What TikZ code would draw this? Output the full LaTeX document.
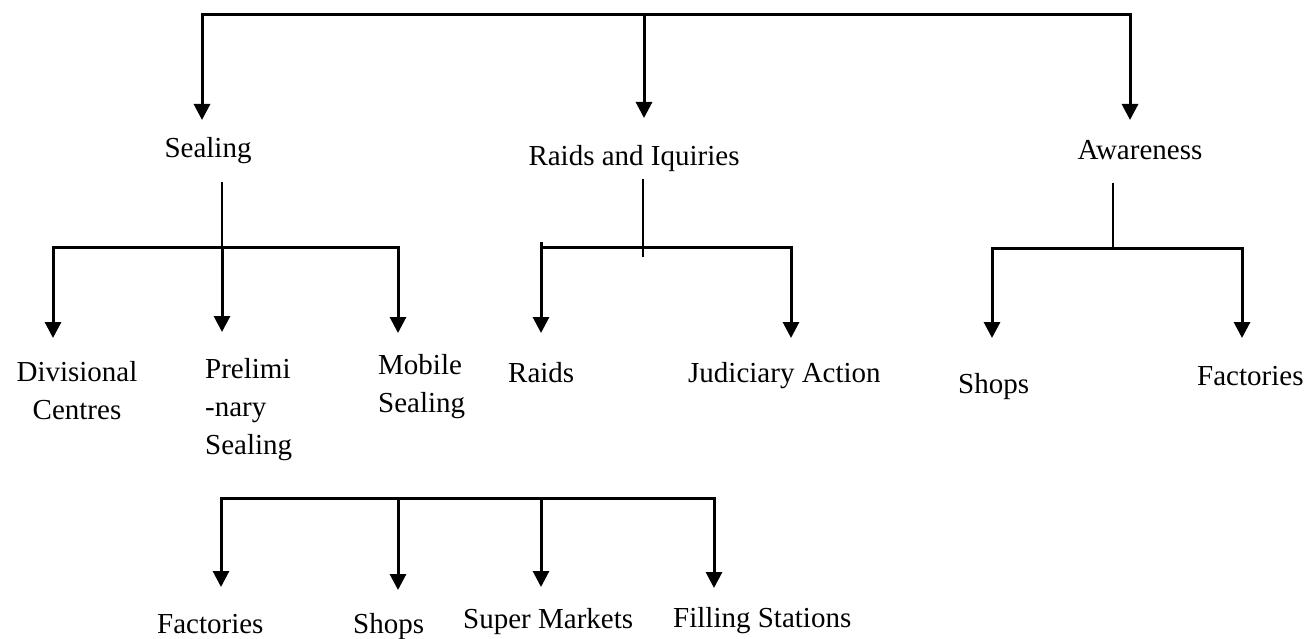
\documentclass[tikz,border=0pt]{standalone}
\usepackage{fontspec}
\setmainfont{Liberation Serif}
\usetikzlibrary{arrows.meta}
\tikzset{
  txt/.style={font=\fontsize{29}{38}\selectfont, inner sep=0pt},
  bar/.style={line width=3pt, line join=miter},
  stem/.style={line width=2pt},
  arrowed/.style={-{Triangle[width=16pt,length=16pt]}},
  twin/.style={{Triangle[width=16pt,length=16pt]}-{Triangle[width=16pt,length=16pt]}}
}
\begin{document}
\begin{tikzpicture}[x=1pt, y=-1pt]
\useasboundingbox (0,0) rectangle (1308,639);
\node[txt, anchor=base] (S) at (208,158) {Sealing};
\node[txt, anchor=base] (R) at (634,166) {Raids and Iquiries};
\node[txt, anchor=base] (A) at (1140,160) {Awareness};
\node[txt, anchor=base, align=center] (S1) at (77,419) {Divisional\\Centres};
\begin{scope}
\clip (150,300) rectangle (330,460);
\node[txt, anchor=base west, align=left] (S2) at (205,454) {Prelimi\\-nary\\Sealing};
\end{scope}
\node[txt, anchor=base west, align=left] (S3) at (378,412) {Mobile\\Sealing};
\node[txt, anchor=base west] (R1) at (508,382) {Raids};
\node[txt, anchor=base west] (R2) at (688,382) {Judiciary Action};
\node[txt, anchor=base west] (A1) at (958,393) {Shops};
\node[txt, anchor=base west] (A2) at (1197,385) {Factories};
\node[txt, anchor=base west] (B1) at (157,633) {Factories};
\node[txt, anchor=base west] (B2) at (353,633) {Shops};
\node[txt, anchor=base west] (B3) at (463,628) {Super Markets};
\node[txt, anchor=base west] (B4) at (673,627) {Filling Stations};
\coordinate (T1) at (202,15);
\coordinate (T3) at (1130,15);
\coordinate (S-in) at (202,120);
\coordinate (R-in) at (644,118);
\coordinate (A-in) at (1130,120);
\coordinate (S-out) at (222,182);
\coordinate (Sj) at (222,247);
\coordinate (S1-in) at (53,338);
\coordinate (S2-in) at (222,332);
\coordinate (S3-in) at (398,333);
\coordinate (R-out) at (643,179);
\coordinate (R-low) at (643,257);
\coordinate (Rj) at (643,247);
\coordinate (R1-top) at (541,242);
\coordinate (R1-in) at (541,333);
\coordinate (R2-in) at (791,338);
\coordinate (A-out) at (1113,183);
\coordinate (Aj) at (1113,248);
\coordinate (A1-in) at (992,338);
\coordinate (A2-in) at (1242,338);
\coordinate (Bl) at (221,498);
\coordinate (Br) at (714,498);
\coordinate (B1-in) at (221,587);
\coordinate (B2-in) at (398,590);
\coordinate (B3-in) at (541,587);
\coordinate (B4-in) at (714,588);
\draw[bar, twin] (S-in) -- (T1) -- (T3) -- (A-in);
\draw[bar, arrowed] (T1 -| R-in) -- (R-in);
\draw[stem] (S-out) -- (Sj);
\draw[bar, twin] (S1-in) |- (Sj) -| (S3-in);
\draw[bar, arrowed] (Sj) -- (S2-in);
\draw[stem] (R-out) -- (R-low);
\draw[bar, arrowed] (R1-top) -- (R1-in);
\draw[bar, arrowed] (R1-in |- Rj) -| (R2-in);
\draw[stem] (A-out) -- (Aj);
\draw[bar, twin] (A1-in) |- (Aj) -| (A2-in);
\draw[bar, twin] (B1-in) -- (Bl) -- (Br) -- (B4-in);
\draw[bar, arrowed] (B2-in |- Bl) -- (B2-in);
\draw[bar, arrowed] (B3-in |- Bl) -- (B3-in);
\end{tikzpicture}
\end{document}
